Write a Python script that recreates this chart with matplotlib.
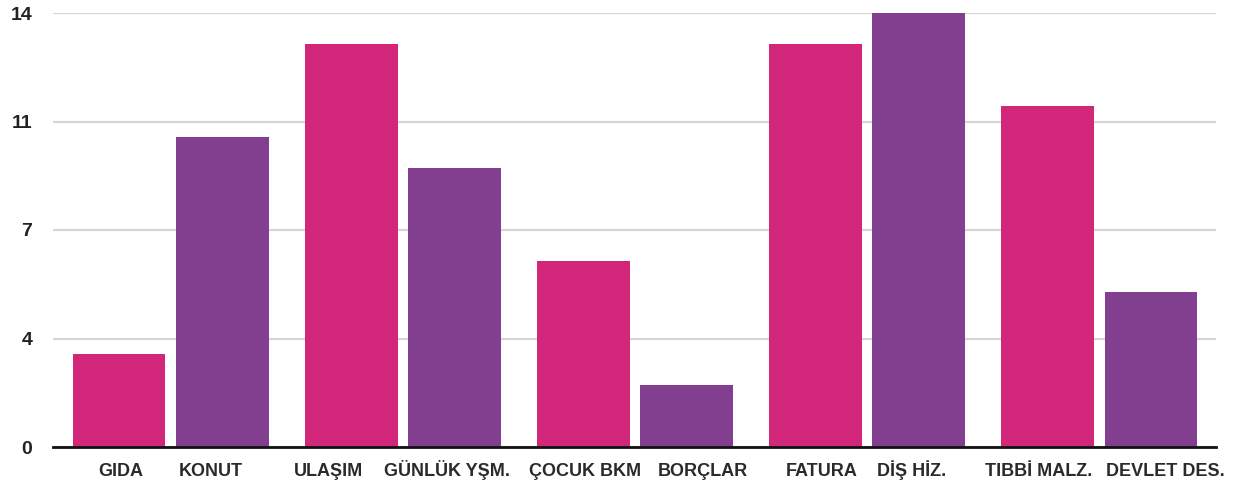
import numpy as np
import matplotlib.pyplot as plt
from matplotlib.transforms import ScaledTranslation

plt.rcParams['font.family'] = ['Liberation Sans', 'DejaVu Sans']

categories = ['GIDA', 'KONUT', 'ULAŞIM', 'GÜNLÜK YŞM.', 'ÇOCUK BKM',
              'BORÇLAR', 'FATURA', 'DİŞ HİZ.', 'TIBBİ MALZ.', 'DEVLET DES.']
values = [3, 10, 13, 9, 6, 2, 13, 14, 11, 5]
y_ticks = [0, 3.5, 7, 10.5, 14]
y_tick_labels = ['0', '4', '7', '11', '14']

pink = '#D1267A'
purple = '#823F8F'

# horizontal nudges (pixels) so neighbouring labels don't collide
label_nudge_px = [2, -11, -23, -7, 2, 16, 6, -7, -9, 14]

# bars come in pairs: first of each pair pink, second purple
n = len(categories)
group = np.arange(n) // 2
side = np.where(np.arange(n) % 2 == 0, -1, 1)
xpos = group + side * 0.222
colors = [pink if s < 0 else purple for s in side]

fig = plt.figure(figsize=(12.34, 4.88), dpi=100)
ax = fig.add_axes([53 / 1234, 41 / 488, (1216 - 53) / 1234, (447 - 13) / 488])

ax.bar(xpos, values, width=0.4, color=colors, zorder=3)

ax.set_xlim(-0.506, 4.502)
ax.set_ylim(0, 14)
ax.set_yticks(y_ticks)
ax.set_yticklabels(y_tick_labels, fontsize=14, fontweight='bold', color='#222222')
ax.set_xticks(xpos)
ax.set_xticklabels(categories, fontsize=13, fontweight='bold', color='#2a2a2a',
                   va='baseline')
ax.tick_params(axis='y', length=0, pad=15)
ax.tick_params(axis='x', length=0, pad=21)

# keep every label on one baseline and shift it sideways
for lbl, dx in zip(ax.get_xticklabels(), label_nudge_px):
    lbl.set_transform(lbl.get_transform() + ScaledTranslation(dx / 100, 0, fig.dpi_scale_trans))

ax.grid(axis='y', color='#d9d5d2', linewidth=1.6, zorder=0)
for s in ['top', 'right', 'left']:
    ax.spines[s].set_visible(False)
ax.spines['bottom'].set_color('#111111')
ax.spines['bottom'].set_linewidth(2)
ax.spines['bottom'].set_zorder(4)

fig.savefig('out.png', dpi=100, facecolor='white')
